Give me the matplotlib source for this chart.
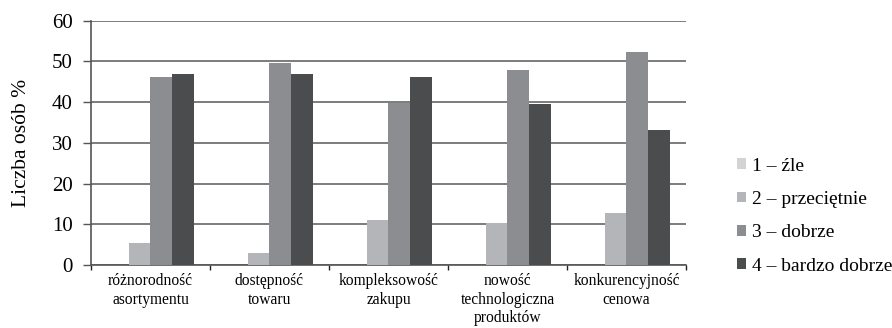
import matplotlib
matplotlib.use("Agg")
import matplotlib.pyplot as plt
import numpy as np

categories = [
    "różnorodność\nasortymentu",
    "dostępność\ntowaru",
    "kompleksowość\nzakupu",
    "nowość\ntechnologiczna\nproduktów",
    "konkurencyjność\ncenowa",
]
series_names = ["1 – źle", "2 – przeciętnie", "3 – dobrze", "4 – bardzo dobrze"]
zle = [0, 0, 0, 0, 0]
przecietnie = [5.5, 3.0, 11.0, 10.2, 12.8]
dobrze = [46.2, 49.6, 39.7, 47.9, 52.3]
bardzo_dobrze = [46.9, 46.9, 46.2, 39.6, 33.2]
y_ticks = [0, 10, 20, 30, 40, 50, 60]

colors = ["#d2d3d5", "#b4b5b8", "#8c8d91", "#4b4c4e"]
axis_color = "#555555"

plt.rcParams["font.family"] = ["Liberation Serif", "DejaVu Serif"]

fig = plt.figure(figsize=(8.92, 3.28), dpi=100)
ax = fig.add_axes([0.102, 0.192, 0.667, 0.745])

x = np.arange(len(categories))
bw = 0.183
values = [zle, przecietnie, dobrze, bardzo_dobrze]
for i, (vals, name, col) in enumerate(zip(values, series_names, colors)):
    ax.bar(x + (i - 1.5) * bw, vals, width=bw, color=col, label=name,
           zorder=3, linewidth=0)

ax.set_xlim(-0.5, len(categories) - 0.5)
ax.set_ylim(0, 60)
ax.set_yticks(y_ticks)
ax.set_yticklabels([str(t) for t in y_ticks], fontsize=15)
ax.yaxis.grid(True, color="#666666", linewidth=1.2, zorder=0)
ax.set_axisbelow(True)

ax.set_xticks(x)
ax.set_xticklabels(categories, fontsize=11.2, linespacing=1.2)
ax.set_xticks(np.arange(-0.5, len(categories), 1), minor=True)
ax.tick_params(axis="x", which="major", length=0, pad=6)
ax.tick_params(axis="x", which="minor", length=3.5, width=1, color="#222222",
               direction="out")
ax.tick_params(axis="y", length=5.5, width=1, color=axis_color, pad=7.5)

for side in ("top", "right"):
    ax.spines[side].set_visible(False)
for side in ("left", "bottom"):
    ax.spines[side].set_color(axis_color)
    ax.spines[side].set_linewidth(1.2)

ax.set_ylabel("Liczba osób %", fontsize=15.5)
ax.yaxis.set_label_coords(-0.1, 0.5)

ax.legend(loc="center left", bbox_to_anchor=(1.073, 0.2), frameon=False,
          fontsize=14, handlelength=0.47, handleheight=0.47,
          handletextpad=0.3, labelspacing=0.84, borderaxespad=0)

fig.savefig("out.png", dpi=100)
